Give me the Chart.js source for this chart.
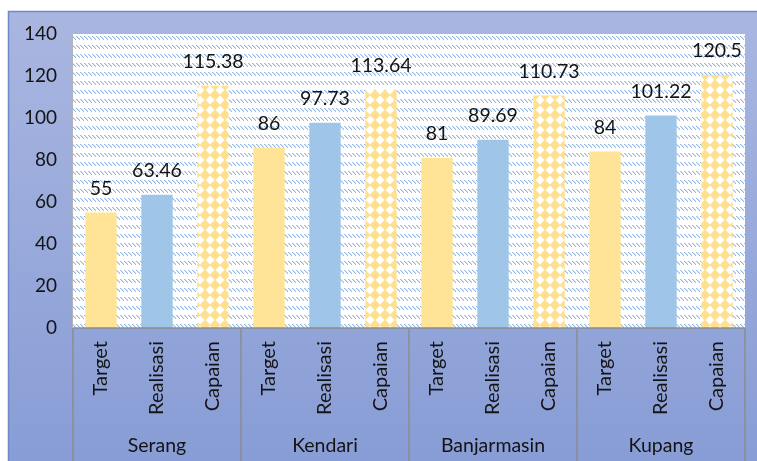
<!DOCTYPE html>
<html>
<head>
<meta charset="utf-8">
<script src="https://cdn.jsdelivr.net/npm/chart.js@4"></script>
<style>
  html, body { margin: 0; padding: 0; background: #ffffff; }
  #wrap { width: 757px; height: 461px; }
</style>
</head>
<body>
<div id="wrap"><canvas id="chart" width="757" height="461"></canvas></div>
<script>
// Data
const groups = ['Serang', 'Kendari', 'Banjarmasin', 'Kupang'];
const seriesNames = ['Target', 'Realisasi', 'Capaian'];
const targetValues = [55, 86, 81, 84];
const realisasiValues = [63.46, 97.73, 89.69, 101.22];
const capaianValues = [115.38, 113.64, 110.73, 120.5];
const yMin = 0;
const yMax = 140;
const yStep = 20;

const FONT = 'Lato, "Open Sans", sans-serif';
const TEXT = '#141414';

// one bar per (group, series)
const labels = groups.flatMap(() => seriesNames);
const values = groups.flatMap((g, i) => [targetValues[i], realisasiValues[i], capaianValues[i]]);

// Patterns
const makeHatch = () => {
    const c = document.createElement('canvas');
    c.width = 4; c.height = 9;
    const x = c.getContext('2d');
    x.fillStyle = '#ffffff';
    x.fillRect(0, 0, 4, 9);
    x.fillStyle = '#94bae4';
    for (let i = 0; i < 4; i++) x.fillRect(i, i, 1, 1);
    x.fillStyle = '#d2e2f4';
    for (let i = 0; i < 3; i++) x.fillRect(i + 1, i, 1, 1);
    return x.createPattern(c, 'repeat');
};

const makeDiamonds = () => {
    const c = document.createElement('canvas');
    c.width = 10; c.height = 10;
    const x = c.getContext('2d');
    x.fillStyle = '#ffffff';
    x.fillRect(0, 0, 10, 10);
    x.fillStyle = '#ffe08f';
    x.beginPath();
    x.moveTo(5, -0.6);
    x.lineTo(10.6, 5);
    x.lineTo(5, 10.6);
    x.lineTo(-0.6, 5);
    x.closePath();
    x.fill();
    return x.createPattern(c, 'repeat');
};

const hatch = makeHatch();
const diamonds = makeDiamonds();
const barColors = labels.map(l => l === 'Target' ? '#ffe497' : l === 'Realisasi' ? '#9fc5e8' : diamonds);

// Frame, plot fill, separators, labels
const decorPlugin = {
    id: 'decor',
    beforeDraw(chart) {
        const ctx = chart.ctx;
        const g = ctx.createLinearGradient(0, 11, 0, 461);
        g.addColorStop(0, '#a9b6e0');
        g.addColorStop(1, '#889dd6');
        ctx.save();
        ctx.fillStyle = g;
        ctx.fillRect(8, 11, 749, 450);
        ctx.strokeStyle = '#7088c8';
        ctx.lineWidth = 1.5;
        ctx.beginPath();
        ctx.moveTo(8.5, 461);
        ctx.lineTo(8.5, 11.5);
        ctx.lineTo(757, 11.5);
        ctx.stroke();
        const a = chart.chartArea;
        ctx.fillStyle = hatch;
        ctx.fillRect(a.left, a.top, a.right - a.left, a.bottom - a.top);
        ctx.restore();
    },
    afterDatasetsDraw(chart) {
        const ctx = chart.ctx;
        const meta = chart.getDatasetMeta(0);
        ctx.save();
        ctx.font = '19.5px ' + FONT;
        ctx.fillStyle = TEXT;
        ctx.textAlign = 'center';
        ctx.textBaseline = 'bottom';
        meta.data.forEach((bar, i) => {
            ctx.fillText(String(values[i]), bar.x, bar.y - 14);
        });
        ctx.restore();
    },
    afterDraw(chart) {
        const ctx = chart.ctx;
        const a = chart.chartArea;
        ctx.save();
        ctx.strokeStyle = '#8c8c8c';
        ctx.lineWidth = 1.5;
        ctx.beginPath();
        ctx.moveTo(a.left, a.bottom);
        ctx.lineTo(a.right, a.bottom);
        ctx.stroke();
        ctx.strokeStyle = '#b3b3b3';
        ctx.lineWidth = 1;
        ctx.beginPath();
        ctx.moveTo(a.left - 0.5, a.top);
        ctx.lineTo(a.left - 0.5, a.bottom);
        ctx.stroke();
        const gw = (a.right - a.left) / groups.length;
        ctx.strokeStyle = '#8c8c8c';
        ctx.lineWidth = 1.5;
        for (let i = 0; i <= groups.length; i++) {
            const x = a.left + i * gw;
            ctx.beginPath();
            ctx.moveTo(x, a.bottom);
            ctx.lineTo(x, 461);
            ctx.stroke();
        }
        ctx.font = '19.5px ' + FONT;
        ctx.fillStyle = TEXT;
        ctx.textAlign = 'center';
        ctx.textBaseline = 'middle';
        groups.forEach((name, i) => {
            ctx.fillText(name, a.left + (i + 0.5) * gw, 446);
        });
        ctx.restore();
    }
};

new Chart(document.getElementById('chart'), {
    type: 'bar',
    data: {
        labels: labels,
        datasets: [{
            data: values,
            backgroundColor: barColors,
            borderWidth: 0,
            barPercentage: 0.56,
            categoryPercentage: 1
        }]
    },
    options: {
        responsive: false,
        animation: false,
        layout: { padding: { left: 0, top: 34, right: 12, bottom: 0 } },
        plugins: {
            legend: { display: false },
            tooltip: { enabled: false }
        },
        scales: {
            x: {
                grid: { display: false, drawTicks: false },
                border: { display: false },
                ticks: {
                    autoSkip: false,
                    minRotation: 90,
                    maxRotation: 90,
                    padding: 13,
                    color: TEXT,
                    font: { family: FONT, size: 20 }
                },
                afterFit: s => { s.height = 133; }
            },
            y: {
                min: yMin,
                max: yMax,
                grid: { display: false, drawTicks: false },
                border: { display: false },
                ticks: {
                    stepSize: yStep,
                    padding: 16,
                    color: TEXT,
                    font: { family: FONT, size: 19 }
                },
                afterFit: s => { s.width = 73; }
            }
        }
    },
    plugins: [decorPlugin]
});
</script>
</body>
</html>
